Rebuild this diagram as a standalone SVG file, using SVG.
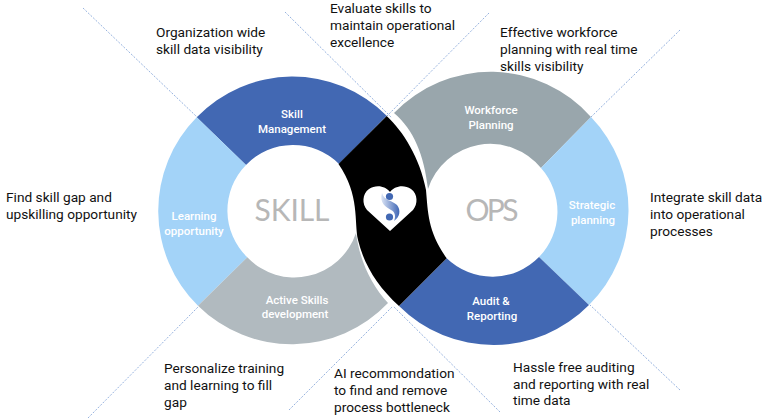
<svg xmlns="http://www.w3.org/2000/svg" width="766" height="420" viewBox="0 0 766 420">
<style>
.t{font-family:"Roboto","Liberation Sans",sans-serif;font-size:13.7px;fill:#111}
.l{font-family:"Roboto","Liberation Sans",sans-serif;font-size:11.5px;font-weight:500;fill:#fff;text-anchor:middle}
.c{font-family:"Lato","Liberation Sans",sans-serif;font-size:30px;fill:#b7b7b7;text-anchor:middle}
.d{fill:none;stroke:#7c9fd6;stroke-width:.8;stroke-dasharray:2 1.5}
</style>
<defs><linearGradient id="g" x1="0" y1="0" x2="1" y2="0"><stop offset="0" stop-color="#dbe4f5"/><stop offset="1" stop-color="#3f66b5"/></linearGradient></defs>
<rect width="766" height="420" fill="#fff"/>
<g id="connectors">
<path class="d" d="M83 8L197 117"/><path class="d" d="M285 12L392 118"/><path class="d" d="M489 13L385 118"/><path class="d" d="M680 30L591 117"/>
<path class="d" d="M88 418L198 307"/><path class="d" d="M289 410L393 306"/><path class="d" d="M500 412L393 306"/><path class="d" d="M680 390L590 305"/>
</g>
<g id="skill-management"><path fill="#4268b3" d="M196.700 117.300L246 165A65 65 0 0 1 339 164L386.700 115.700A133 133 0 0 0 196.700 117.300Z"/><text class="l" x="292" y="118">Skill</text><text class="l" x="292" y="133">Management</text></g>
<g id="learning-opportunity"><path fill="#a3d3f8" d="M196.700 117.300A133 133 0 0 0 198 305.700L247.300 257.300A65 65 0 0 1 246 165Z"/><text class="l" x="194" y="220">Learning</text><text class="l" x="194" y="235">opportunity</text></g>
<g id="active-skills"><path fill="#b1babf" d="M198 305.700L247.300 257.300A65 65 0 0 0 356 233C360 262 372 286 388 303A133 133 0 0 1 198 305.700Z"/><text class="l" x="297" y="304">Active Skills</text><text class="l" x="295" y="318">development</text></g>
<g id="skill-center"><text class="c" x="292" y="221" textLength="75">SKILL</text></g>
<g id="workforce-planning"><path fill="#99a6ac" d="M394 113A134 134 0 0 1 591 117L541 168A65.500 65.500 0 0 0 428 189C424 155 414 130 394 113Z"/><text class="l" x="491" y="114">Workforce</text><text class="l" x="491" y="129">Planning</text></g>
<g id="strategic-planning"><path fill="#a3d3f8" d="M591 117A134 134 0 0 1 589 305L539 257A65.500 65.500 0 0 0 541 168Z"/><text class="l" x="592" y="209">Strategic</text><text class="l" x="593" y="224">planning</text></g>
<g id="audit-reporting"><path fill="#4268b3" d="M399 306L446.700 258.300A65.500 65.500 0 0 0 539 257L589 305A134 134 0 0 1 399 306Z"/><text class="l" x="491" y="305">Audit &amp;</text><text class="l" x="492" y="320">Reporting</text></g>
<g id="ops-center"><text class="c" x="492" y="221" textLength="53">OPS</text></g>
<g id="infinity-core"><path fill="#000" d="M386.700 116C403 131 420 158 426 190C428 213 428 232 446.700 258.300L399 306C378 287 364 265 358 240C354 222 360 195 338.500 164Z"/>
<path fill="#fff" d="M390 192C394 186 404 184 411 189C418 194 418 204 413 210L390 231L367 210C362 204 362 194 369 189C376 184 386 186 390 192Z"/>
<circle cx="389.500" cy="196.500" r="3.600" fill="#4268b3"/><circle cx="389.500" cy="217" r="3.600" fill="#4268b3"/>
<path fill="url(#g)" d="M382 193C379 203 386 207 391 210C395 212 396 216 394 221C400 217 401 210 397 205C392 200 384 201 382 193Z"/></g>
<g id="captions">
<text class="t" x="156" y="37">Organization wide</text><text class="t" x="156" y="54">skill data visibility</text>
<text class="t" x="330" y="13">Evaluate skills to</text><text class="t" x="330" y="30">maintain operational</text><text class="t" x="330" y="47">excellence</text>
<text class="t" x="500" y="37">Effective workforce</text><text class="t" x="500" y="54">planning with real time</text><text class="t" x="500" y="71">skills visibility</text>
<text class="t" x="6" y="202">Find skill gap and</text><text class="t" x="6" y="219">upskilling opportunity</text>
<text class="t" x="650" y="202">Integrate skill data</text><text class="t" x="650" y="219">into operational</text><text class="t" x="650" y="236">processes</text>
<text class="t" x="164" y="373">Personalize training</text><text class="t" x="164" y="390">and learning to fill</text><text class="t" x="164" y="407">gap</text>
<text class="t" x="334" y="378">AI recommondation</text><text class="t" x="334" y="395">to find and remove</text><text class="t" x="334" y="412">process bottleneck</text>
<text class="t" x="513" y="372">Hassle free auditing</text><text class="t" x="513" y="389">and reporting with real</text><text class="t" x="513" y="405">time data</text>
</g>
</svg>
